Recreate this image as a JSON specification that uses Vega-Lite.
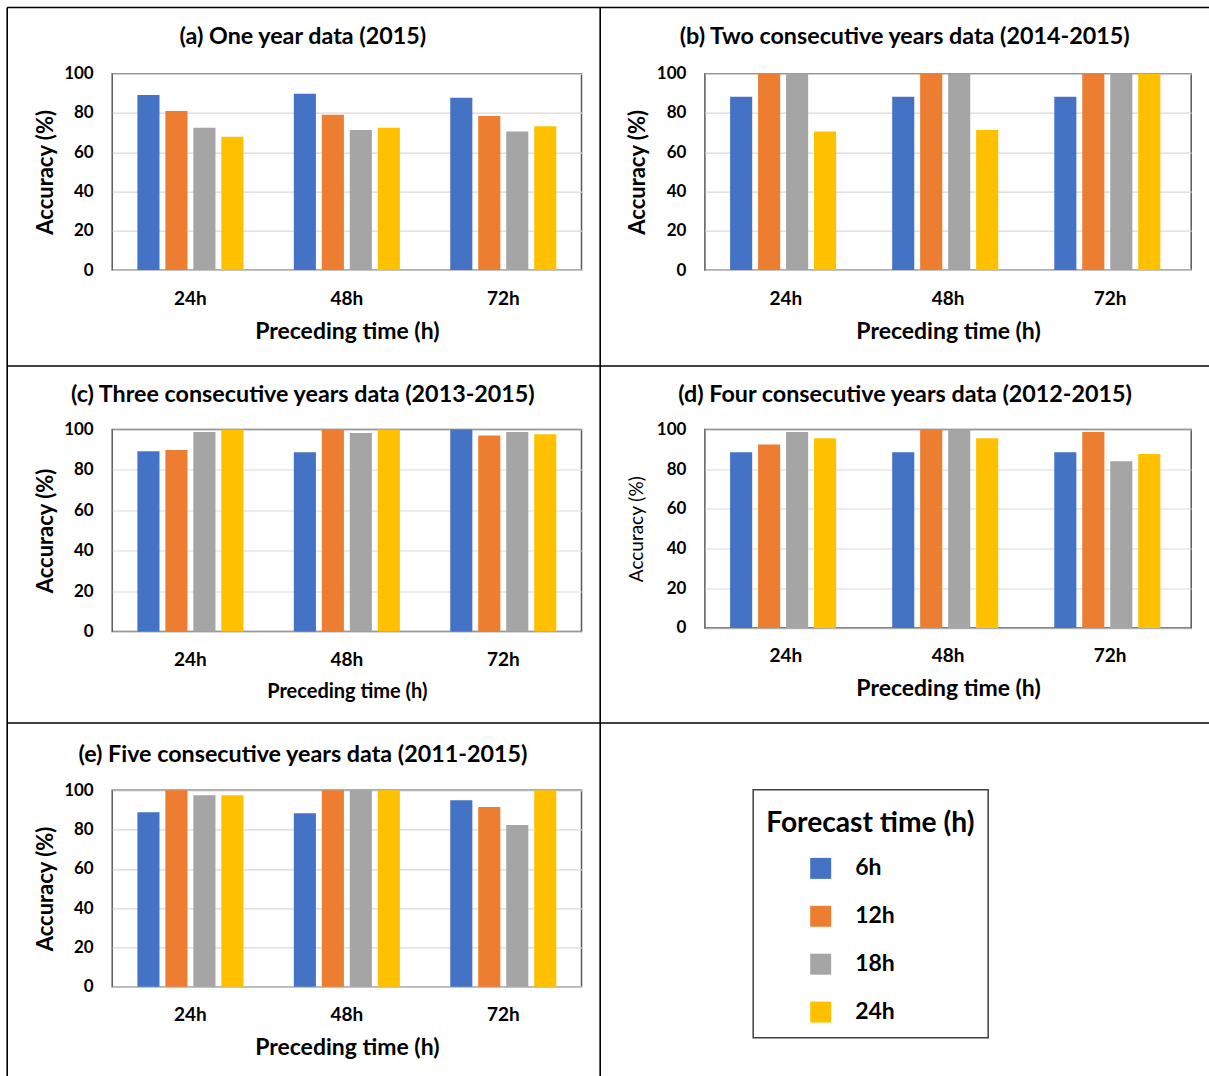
{
  "$schema": "https://vega.github.io/schema/vega-lite/v6.json",
  "autosize": {"type": "pad"},
  "padding": {"left": 6.2, "top": 6.7, "right": 0, "bottom": 0},
  "background": "white",
  "bounds": "flush",
  "columns": 2,
  "spacing": {"row": 158.8, "column": 122.7},
  "datasets": {
    "accuracy": [
      {"panel": "a", "pre": "24h", "fc": "6h", "acc": 89.1},
      {"panel": "a", "pre": "24h", "fc": "12h", "acc": 81.0},
      {"panel": "a", "pre": "24h", "fc": "18h", "acc": 72.5},
      {"panel": "a", "pre": "24h", "fc": "24h", "acc": 67.9},
      {"panel": "a", "pre": "48h", "fc": "6h", "acc": 89.8},
      {"panel": "a", "pre": "48h", "fc": "12h", "acc": 79.1},
      {"panel": "a", "pre": "48h", "fc": "18h", "acc": 71.3},
      {"panel": "a", "pre": "48h", "fc": "24h", "acc": 72.5},
      {"panel": "a", "pre": "72h", "fc": "6h", "acc": 87.8},
      {"panel": "a", "pre": "72h", "fc": "12h", "acc": 78.4},
      {"panel": "a", "pre": "72h", "fc": "18h", "acc": 70.6},
      {"panel": "a", "pre": "72h", "fc": "24h", "acc": 73.2},
      {"panel": "b", "pre": "24h", "fc": "6h", "acc": 88.3},
      {"panel": "b", "pre": "24h", "fc": "12h", "acc": 100},
      {"panel": "b", "pre": "24h", "fc": "18h", "acc": 100},
      {"panel": "b", "pre": "24h", "fc": "24h", "acc": 70.6},
      {"panel": "b", "pre": "48h", "fc": "6h", "acc": 88.3},
      {"panel": "b", "pre": "48h", "fc": "12h", "acc": 100},
      {"panel": "b", "pre": "48h", "fc": "18h", "acc": 100},
      {"panel": "b", "pre": "48h", "fc": "24h", "acc": 71.3},
      {"panel": "b", "pre": "72h", "fc": "6h", "acc": 88.3},
      {"panel": "b", "pre": "72h", "fc": "12h", "acc": 100},
      {"panel": "b", "pre": "72h", "fc": "18h", "acc": 100},
      {"panel": "b", "pre": "72h", "fc": "24h", "acc": 100},
      {"panel": "c", "pre": "24h", "fc": "6h", "acc": 89.2},
      {"panel": "c", "pre": "24h", "fc": "12h", "acc": 89.9},
      {"panel": "c", "pre": "24h", "fc": "18h", "acc": 98.8},
      {"panel": "c", "pre": "24h", "fc": "24h", "acc": 100},
      {"panel": "c", "pre": "48h", "fc": "6h", "acc": 88.7},
      {"panel": "c", "pre": "48h", "fc": "12h", "acc": 100},
      {"panel": "c", "pre": "48h", "fc": "18h", "acc": 98.3},
      {"panel": "c", "pre": "48h", "fc": "24h", "acc": 100},
      {"panel": "c", "pre": "72h", "fc": "6h", "acc": 100},
      {"panel": "c", "pre": "72h", "fc": "12h", "acc": 97.0},
      {"panel": "c", "pre": "72h", "fc": "18h", "acc": 98.8},
      {"panel": "c", "pre": "72h", "fc": "24h", "acc": 97.7},
      {"panel": "d", "pre": "24h", "fc": "6h", "acc": 88.5},
      {"panel": "d", "pre": "24h", "fc": "12h", "acc": 92.4},
      {"panel": "d", "pre": "24h", "fc": "18h", "acc": 98.8},
      {"panel": "d", "pre": "24h", "fc": "24h", "acc": 95.6},
      {"panel": "d", "pre": "48h", "fc": "6h", "acc": 88.5},
      {"panel": "d", "pre": "48h", "fc": "12h", "acc": 100},
      {"panel": "d", "pre": "48h", "fc": "18h", "acc": 100},
      {"panel": "d", "pre": "48h", "fc": "24h", "acc": 95.6},
      {"panel": "d", "pre": "72h", "fc": "6h", "acc": 88.5},
      {"panel": "d", "pre": "72h", "fc": "12h", "acc": 98.8},
      {"panel": "d", "pre": "72h", "fc": "18h", "acc": 84.0},
      {"panel": "d", "pre": "72h", "fc": "24h", "acc": 87.7},
      {"panel": "e", "pre": "24h", "fc": "6h", "acc": 88.8},
      {"panel": "e", "pre": "24h", "fc": "12h", "acc": 100},
      {"panel": "e", "pre": "24h", "fc": "18h", "acc": 97.5},
      {"panel": "e", "pre": "24h", "fc": "24h", "acc": 97.5},
      {"panel": "e", "pre": "48h", "fc": "6h", "acc": 88.3},
      {"panel": "e", "pre": "48h", "fc": "12h", "acc": 100},
      {"panel": "e", "pre": "48h", "fc": "18h", "acc": 100},
      {"panel": "e", "pre": "48h", "fc": "24h", "acc": 100},
      {"panel": "e", "pre": "72h", "fc": "6h", "acc": 94.9},
      {"panel": "e", "pre": "72h", "fc": "12h", "acc": 91.5},
      {"panel": "e", "pre": "72h", "fc": "18h", "acc": 82.3},
      {"panel": "e", "pre": "72h", "fc": "24h", "acc": 100}
    ],
    "figureGrid": [
      {"c1": 0, "c2": 2, "r1": 0, "r2": 0},
      {"c1": 0, "c2": 2, "r1": 1, "r2": 1},
      {"c1": 0, "c2": 2, "r1": 2, "r2": 2},
      {"c1": 0, "c2": 0, "r1": 0, "r2": 3},
      {"c1": 1, "c2": 1, "r1": 0, "r2": 3}
    ]
  },
  "concat": [
    {
      "width": 469.3,
      "height": 196.4,
      "title": {"text": "(a) One year data (2015)", "dx": -44},
      "data": {"name": "accuracy"},
      "transform": [{"filter": "datum.panel == 'a'"}],
      "mark": {"type": "bar"},
      "encoding": {
        "x": {"field": "pre", "type": "nominal", "sort": ["24h", "48h", "72h"], "scale": {"paddingInner": 0, "paddingOuter": 0}, "axis": {"title": "Preceding time (h)", "titleY": 68}},
        "xOffset": {"field": "fc", "type": "nominal", "sort": ["6h", "12h", "18h", "24h"], "scale": {"paddingInner": 0.21, "paddingOuter": 0.9}},
        "y": {"field": "acc", "type": "quantitative", "scale": {"domain": [0, 100], "nice": false}, "axis": {"title": "Accuracy (%)", "values": [0, 20, 40, 60, 80, 100], "titleX": -60}},
        "color": {"field": "fc", "type": "nominal", "sort": ["6h", "12h", "18h", "24h"], "scale": {"domain": ["6h", "12h", "18h", "24h"], "range": ["#4472C4", "#ED7D31", "#A5A5A5", "#FFC000"]}, "legend": {"title": "Forecast time (h)"}}
      }
    },
    {
      "width": 486.3,
      "height": 196.4,
      "title": {"text": "(b) Two consecutive years data (2014-2015)", "dx": -43.4},
      "data": {"name": "accuracy"},
      "transform": [{"filter": "datum.panel == 'b'"}],
      "mark": {"type": "bar"},
      "encoding": {
        "x": {"field": "pre", "type": "nominal", "sort": ["24h", "48h", "72h"], "scale": {"paddingInner": 0, "paddingOuter": 0}, "axis": {"title": "Preceding time (h)", "titleY": 68}},
        "xOffset": {"field": "fc", "type": "nominal", "sort": ["6h", "12h", "18h", "24h"], "scale": {"paddingInner": 0.21, "paddingOuter": 0.9}},
        "y": {"field": "acc", "type": "quantitative", "scale": {"domain": [0, 100], "nice": false}, "axis": {"title": "Accuracy (%)", "values": [0, 20, 40, 60, 80, 100], "titleX": -60}},
        "color": {"field": "fc", "type": "nominal", "sort": ["6h", "12h", "18h", "24h"], "legend": {"title": "Forecast time (h)"}}
      }
    },
    {
      "width": 469.3,
      "height": 202,
      "title": {"text": "(c) Three consecutive years data (2013-2015)", "dx": -44, "offset": 13.5},
      "data": {"name": "accuracy"},
      "transform": [{"filter": "datum.panel == 'c'"}],
      "mark": {"type": "bar"},
      "encoding": {
        "x": {"field": "pre", "type": "nominal", "sort": ["24h", "48h", "72h"], "scale": {"paddingInner": 0, "paddingOuter": 0}, "axis": {"title": "Preceding time (h)", "titleY": 66.5, "titleFontSize": 20}},
        "xOffset": {"field": "fc", "type": "nominal", "sort": ["6h", "12h", "18h", "24h"], "scale": {"paddingInner": 0.21, "paddingOuter": 0.9}},
        "y": {"field": "acc", "type": "quantitative", "scale": {"domain": [0, 100], "nice": false}, "axis": {"title": "Accuracy (%)", "values": [0, 20, 40, 60, 80, 100], "titleX": -60}},
        "color": {"field": "fc", "type": "nominal", "sort": ["6h", "12h", "18h", "24h"], "legend": {"title": "Forecast time (h)"}}
      }
    },
    {
      "width": 486.3,
      "height": 198.5,
      "title": {"text": "(d) Four consecutive years data (2012-2015)", "dx": -42.9, "offset": 13.5},
      "data": {"name": "accuracy"},
      "transform": [{"filter": "datum.panel == 'd'"}],
      "mark": {"type": "bar"},
      "encoding": {
        "x": {"field": "pre", "type": "nominal", "sort": ["24h", "48h", "72h"], "scale": {"paddingInner": 0, "paddingOuter": 0}, "axis": {"title": "Preceding time (h)", "titleY": 68}},
        "xOffset": {"field": "fc", "type": "nominal", "sort": ["6h", "12h", "18h", "24h"], "scale": {"paddingInner": 0.21, "paddingOuter": 0.9}},
        "y": {"field": "acc", "type": "quantitative", "scale": {"domain": [0, 100], "nice": false}, "axis": {"title": "Accuracy (%)", "values": [0, 20, 40, 60, 80, 100], "titleX": -62, "titleFontSize": 19, "titleFontWeight": "normal"}},
        "color": {"field": "fc", "type": "nominal", "sort": ["6h", "12h", "18h", "24h"], "legend": {"title": "Forecast time (h)"}}
      }
    },
    {
      "width": 469.3,
      "height": 196.4,
      "title": {"text": "(e) Five consecutive years data (2011-2015)", "dx": -44, "offset": 13.5},
      "data": {"name": "accuracy"},
      "transform": [{"filter": "datum.panel == 'e'"}],
      "mark": {"type": "bar"},
      "encoding": {
        "x": {"field": "pre", "type": "nominal", "sort": ["24h", "48h", "72h"], "scale": {"paddingInner": 0, "paddingOuter": 0}, "axis": {"title": "Preceding time (h)", "titleY": 68}},
        "xOffset": {"field": "fc", "type": "nominal", "sort": ["6h", "12h", "18h", "24h"], "scale": {"paddingInner": 0.21, "paddingOuter": 0.9}},
        "y": {"field": "acc", "type": "quantitative", "scale": {"domain": [0, 100], "nice": false}, "axis": {"title": "Accuracy (%)", "values": [0, 20, 40, 60, 80, 100], "titleX": -60}},
        "color": {"field": "fc", "type": "nominal", "sort": ["6h", "12h", "18h", "24h"], "legend": {"title": "Forecast time (h)"}}
      }
    },
    {
      "width": 486.3,
      "height": 196.4,
      "view": {"stroke": null},
      "data": {"name": "figureGrid"},
      "mark": {"type": "rule", "color": "#000000", "strokeWidth": 1.6, "clip": false},
      "encoding": {
        "x": {"field": "c1", "type": "quantitative", "scale": {"domain": [0, 1, 2], "range": [-697.7, -104.7, 504.3], "zero": false, "nice": false}, "axis": null},
        "x2": {"field": "c2"},
        "y": {"field": "r1", "type": "quantitative", "scale": {"domain": [0, 1, 2, 3], "range": [-782.8, -424.3, -67.3, 285.7], "zero": false, "nice": false}, "axis": null},
        "y2": {"field": "r2"}
      }
    }
  ],
  "config": {
    "font": "Lato",
    "view": {"stroke": "#595959", "strokeWidth": 1.5},
    "axis": {
      "labelFont": "Lato",
      "labelFontWeight": "bold",
      "labelColor": "#000000",
      "titleFont": "Lato",
      "titleColor": "#000000",
      "titleFontWeight": "bold",
      "domain": false,
      "ticks": false,
      "tickSize": 0,
      "gridColor": "#d9d9d9",
      "gridWidth": 1.2
    },
    "axisX": {"grid": false, "labelAngle": 0, "labelFontSize": 19, "labelPadding": 19, "titleFontSize": 23, "titleBaseline": "alphabetic"},
    "axisY": {"grid": true, "labelFontSize": 17, "labelPadding": 19, "titleFontSize": 22, "titleBaseline": "alphabetic"},
    "title": {"font": "Lato", "fontSize": 23.3, "fontWeight": "bold", "color": "#000000", "anchor": "middle", "frame": "group", "baseline": "alphabetic", "offset": 15.5},
    "legend": {
      "orient": "none",
      "legendX": 641,
      "legendY": 716,
      "direction": "vertical",
      "titleFont": "Lato",
      "titleFontSize": 28.2,
      "titleFontWeight": "bold",
      "titleColor": "#000000",
      "titleLimit": 400,
      "titleBaseline": "line-top",
      "titleLineHeight": 42,
      "titlePadding": 26,
      "labelFont": "Lato",
      "labelFontSize": 23,
      "labelFontWeight": "bold",
      "labelColor": "#000000",
      "symbolType": "square",
      "symbolSize": 441,
      "symbolStrokeWidth": 0,
      "symbolOpacity": 1,
      "symbolOffset": 43,
      "labelOffset": 23,
      "rowPadding": 23.9,
      "padding": 13,
      "strokeColor": "#404040",
      "strokeWidth": 1.5
    }
  }
}
